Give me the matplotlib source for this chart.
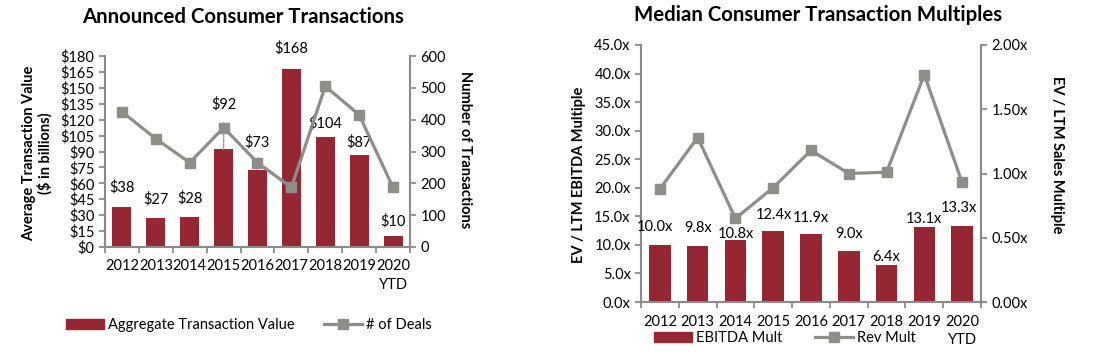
import matplotlib
matplotlib.use('Agg')
import matplotlib.pyplot as plt
from matplotlib.patches import Patch
from matplotlib.lines import Line2D

years = ['2012', '2013', '2014', '2015', '2016', '2017', '2018', '2019', '2020\nYTD']

# left chart
agg_value = [38, 27, 28, 92, 73, 168, 104, 87, 10]
num_deals = [425, 340, 265, 375, 265, 187, 505, 415, 187]
# right chart
ebitda_mult = [10.0, 9.8, 10.8, 12.4, 11.9, 9.0, 6.4, 13.1, 13.3]
rev_mult = [0.88, 1.28, 0.65, 0.89, 1.18, 1.00, 1.01, 1.77, 0.93]

# label offsets above bar tops (pixels)
agg_dy = [19, 19, 19, 45, 27, 20, 13, 12, 15]
ebitda_dy = [18, 18, 6, 16, 16, 17, 8, 8, 18]
ebitda_dx = [-5, 0, 0, 1, 0, 0, 0, 0, -3]

bar_color = '#962631'
line_color = '#8e8e88'
spine_color = '#8a8a8a'
fs = 10.5

plt.rcParams['font.family'] = ['Lato', 'DejaVu Sans']

fig = plt.figure(figsize=(11.19, 3.61), dpi=100)
W, H = 1119, 361


def make_axes(x0, x1, ytop, ybot):
    return fig.add_axes([x0 / W, 1 - ybot / H, (x1 - x0) / W, (ybot - ytop) / H])


def style(ax, ax2):
    for a in (ax, ax2):
        a.spines['top'].set_visible(False)
        for s in ('left', 'right', 'bottom'):
            a.spines[s].set_color(spine_color)
            a.spines[s].set_linewidth(1.5)
    ax.spines['right'].set_visible(False)
    ax2.spines['left'].set_visible(False)
    ax2.spines['bottom'].set_visible(False)
    ax.set_xlim(-0.5, len(years) - 0.5)
    ax.set_xticks(range(len(years)))
    ax.set_xticklabels(years, fontsize=fs, linespacing=1.45)
    ax.set_xticks([i - 0.5 for i in range(len(years) + 1)], minor=True)
    ax.tick_params(axis='x', which='major', length=0, pad=9)
    ax.tick_params(axis='x', which='minor', length=4, width=1.3, color=spine_color, direction='out')
    ax.tick_params(axis='y', length=4, width=1.3, color=spine_color, labelsize=fs, direction='out')
    ax2.tick_params(axis='y', length=4, width=1.3, color=spine_color, labelsize=fs, direction='out')


# ---------- left chart ----------
ax = make_axes(105, 410, 56, 247)
ax2 = ax.twinx()
x = range(len(years))
ax.bar(x, agg_value, width=0.56, color=bar_color, zorder=2)
ax.set_ylim(0, 180)
ax.set_yticks(range(0, 181, 15))
ax.set_yticklabels(['$' + str(v) for v in range(0, 181, 15)])
ax2.plot(x, num_deals, color=line_color, lw=2.3, marker='s', ms=7.5,
         mfc=line_color, mec=line_color, zorder=3)
ax2.set_ylim(0, 600)
ax2.set_yticks(range(0, 601, 100))
style(ax, ax2)
for i, v in enumerate(agg_value):
    arrow = dict(arrowstyle='-', color='#a0a0a0', lw=1, shrinkA=6, shrinkB=0) if agg_dy[i] > 25 else None
    ax2.annotate('$' + str(v), xy=(i, v * 600 / 180), xytext=(0, agg_dy[i]),
                 textcoords='offset pixels', ha='center', va='center',
                 fontsize=fs, arrowprops=arrow, zorder=1)

fig.text(243 / W, 1 - 17 / H, 'Announced Consumer Transactions', ha='center', va='center',
         fontsize=14.7, fontweight='bold')
fig.text(37 / W, 1 - 153 / H, 'Average Transaction Value\n($ in billions)', ha='center', va='center',
         rotation=90, fontsize=fs, fontweight='bold', linespacing=1.1)
fig.text(465 / W, 1 - 150 / H, 'Number of Transactions', ha='center', va='center',
         rotation=270, fontsize=fs, fontweight='bold')

handles = [Patch(color=bar_color), Line2D([], [], color=line_color, lw=2.3, marker='s', ms=7.5)]
fig.legend(handles, ['Aggregate Transaction Value', '# of Deals'], loc='center',
           bbox_to_anchor=(249 / W, 1 - 325 / H), ncol=2, frameon=False, fontsize=fs,
           handlelength=2.6, handletextpad=0.3, columnspacing=2.0)

# ---------- right chart ----------
bx = make_axes(641, 981, 45, 302)
bx2 = bx.twinx()
bx.bar(x, ebitda_mult, width=0.57, color=bar_color, zorder=2)
bx.set_ylim(0, 45)
bx.set_yticks([i * 5 for i in range(10)])
bx.set_yticklabels(['%.1fx' % (i * 5) for i in range(10)])
bx2.plot(x, rev_mult, color=line_color, lw=2.3, marker='s', ms=7.5,
         mfc=line_color, mec=line_color, zorder=3)
bx2.set_ylim(0, 2)
bx2.set_yticks([0, 0.5, 1.0, 1.5, 2.0])
bx2.set_yticklabels(['%.2fx' % v for v in [0, 0.5, 1.0, 1.5, 2.0]])
style(bx, bx2)
for i, v in enumerate(ebitda_mult):
    bx.annotate('%.1fx' % v, xy=(i, v), xytext=(ebitda_dx[i], ebitda_dy[i]),
                textcoords='offset pixels', ha='center', va='center', fontsize=fs)

fig.text(818 / W, 1 - 15 / H, 'Median Consumer Transaction Multiples', ha='center', va='center',
         fontsize=14.7, fontweight='bold')
fig.text(579 / W, 1 - 175 / H, 'EV / LTM EBITDA Multiple', ha='center', va='center',
         rotation=90, fontsize=fs, fontweight='bold')
fig.text(1057 / W, 1 - 155 / H, 'EV / LTM Sales Multiple', ha='center', va='center',
         rotation=270, fontsize=fs, fontweight='bold')

fig.legend(handles, ['EBITDA Mult', 'Rev Mult'], loc='center',
           bbox_to_anchor=(785 / W, 1 - 338 / H), ncol=2, frameon=False, fontsize=fs,
           handlelength=2.6, handletextpad=0.3, columnspacing=2.2)

fig.savefig('out.png', dpi=100)
